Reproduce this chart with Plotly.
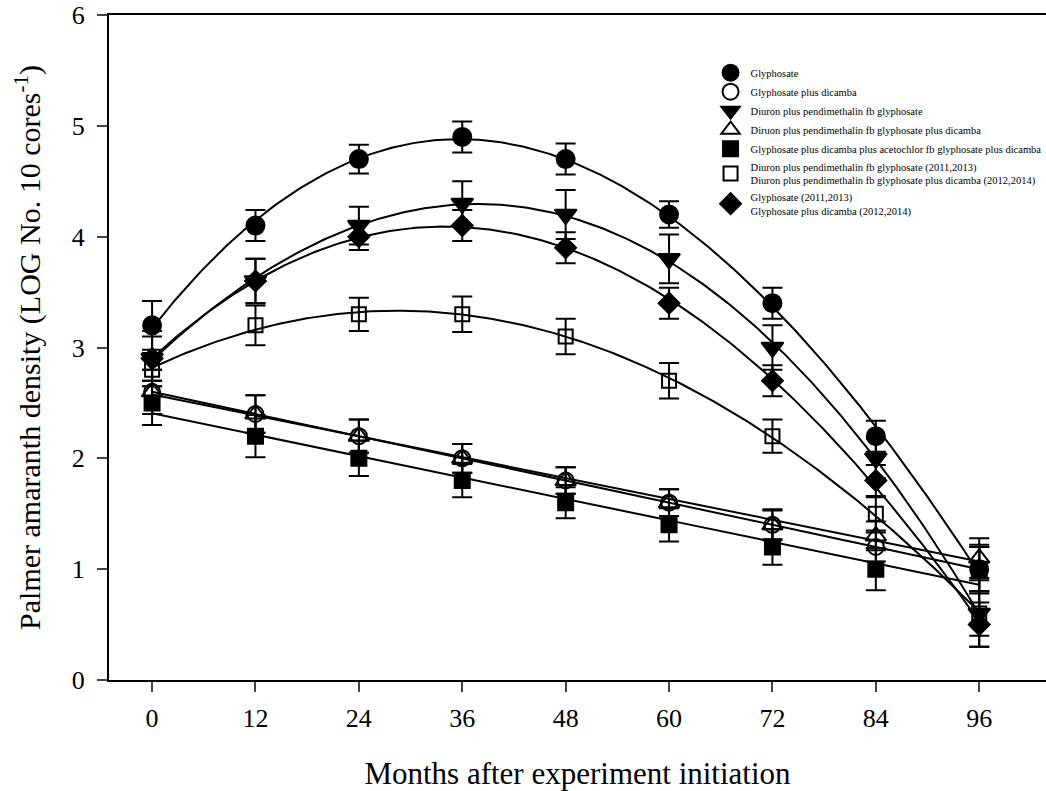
import numpy as np
import plotly.graph_objects as go

months = [0, 12, 24, 36, 48, 60, 72, 84, 96]

names = [
    "Glyphosate",
    "Glyphosate plus dicamba",
    "Diuron plus pendimethalin fb glyphosate",
    "Diruon plus pendimethalin fb glyphosate plus dicamba",
    "Glyphosate plus dicamba plus acetochlor fb glyphosate plus dicamba",
    "Diuron plus pendimethalin fb glyphosate (2011,2013)<br>Diuron plus pendimethalin fb glyphosate plus dicamba (2012,2014)",
    "Glyphosate (2011,2013)<br>Glyphosate plus dicamba (2012,2014)",
]

gly = [3.2, 4.1, 4.7, 4.9, 4.7, 4.2, 3.4, 2.2, 1.0]
gly_dic = [2.6, 2.4, 2.2, 2.0, 1.8, 1.6, 1.4, 1.2, 1.0]
dp_gly = [2.9, 3.6, 4.1, 4.3, 4.2, 3.8, 3.0, 2.0, 0.6]
dp_gly_dic = [2.6, 2.4, 2.2, 2.0, 1.8, 1.6, 1.4, 1.3, 1.1]
gda = [2.5, 2.2, 2.0, 1.8, 1.6, 1.4, 1.2, 1.0, 1.0]
dp_rot = [2.8, 3.2, 3.3, 3.3, 3.1, 2.7, 2.2, 1.5, 0.6]
gly_rot = [2.9, 3.6, 4.0, 4.1, 3.9, 3.4, 2.7, 1.8, 0.5]

gly_se = [0.22, 0.14, 0.13, 0.14, 0.14, 0.12, 0.14, 0.14, 0.22]
gly_dic_se = [0.2, 0.17, 0.15, 0.13, 0.12, 0.12, 0.13, 0.13, 0.2]
dp_gly_se = [0.25, 0.2, 0.17, 0.2, 0.22, 0.22, 0.2, 0.18, 0.3]
dp_gly_dic_se = [0.2, 0.17, 0.15, 0.13, 0.12, 0.12, 0.14, 0.13, 0.18]
gda_se = [0.2, 0.19, 0.16, 0.15, 0.14, 0.15, 0.16, 0.19, 0.2]
dp_rot_se = [0.15, 0.18, 0.15, 0.16, 0.16, 0.16, 0.15, 0.15, 0.2]
gly_rot_se = [0.2, 0.2, 0.12, 0.14, 0.14, 0.14, 0.14, 0.14, 0.2]

series = [
    (gly, gly_se, "circle", 18, 3),
    (gly_dic, gly_dic_se, "circle-open", 16, 1),
    (dp_gly, dp_gly_se, "triangle-down", 19, 3),
    (dp_gly_dic, dp_gly_dic_se, "triangle-up-open", 18, 1),
    (gda, gda_se, "square", 15, 1),
    (dp_rot, dp_rot_se, "square-open", 14, 3),
    (gly_rot, gly_rot_se, "diamond", 16, 3),
]

FONT = "Liberation Serif"
fig = go.Figure()

xs = np.linspace(0, 96, 300)
for vals, se, sym, size, deg in series:
    coef = np.polyfit(months, vals, deg)
    fig.add_trace(go.Scatter(x=xs, y=np.polyval(coef, xs), mode="lines",
                             line=dict(color="black", width=2),
                             showlegend=False, hoverinfo="skip"))

for (vals, se, sym, size, deg), name in zip(series, names):
    fig.add_trace(go.Scatter(
        x=months, y=vals, mode="markers", name=name,
        marker=dict(symbol=sym, size=size, color="black",
                    line=dict(color="black", width=2)),
        error_y=dict(type="data", array=se, visible=True, color="black",
                     thickness=2, width=10),
    ))

fig.update_layout(
    width=1046, height=791,
    margin=dict(l=109, r=0, t=15, b=111, autoexpand=False),
    plot_bgcolor="white", paper_bgcolor="white",
    font=dict(family=FONT, color="black"),
    legend=dict(x=0.642, y=0.935, xanchor="left", yanchor="top",
                font=dict(family=FONT, size=10.5, color="black"),
                bgcolor="rgba(0,0,0,0)", tracegroupgap=0),
)
fig.update_xaxes(
    range=[-5, 103.75], tickvals=months, ticks="outside", ticklen=10,
    tickwidth=2, showline=True, linewidth=2, linecolor="black", mirror=True,
    showgrid=False, zeroline=False, tickfont=dict(family=FONT, size=26),
    ticklabelstandoff=4,
    title=dict(text="Months after experiment initiation",
               font=dict(family=FONT, size=31), standoff=32),
)
fig.update_yaxes(
    range=[0, 6], tickvals=[0, 1, 2, 3, 4, 5, 6], ticks="outside", ticklen=10,
    tickwidth=2, showline=True, linewidth=2, linecolor="black",
    showgrid=False, zeroline=False, tickfont=dict(family=FONT, size=26),
    ticklabelstandoff=7,
    title=dict(text="Palmer amaranth density (LOG No. 10 cores<sup>-1</sup>)",
               font=dict(family=FONT, size=30), standoff=22),
)

fig.write_html("out.html")
